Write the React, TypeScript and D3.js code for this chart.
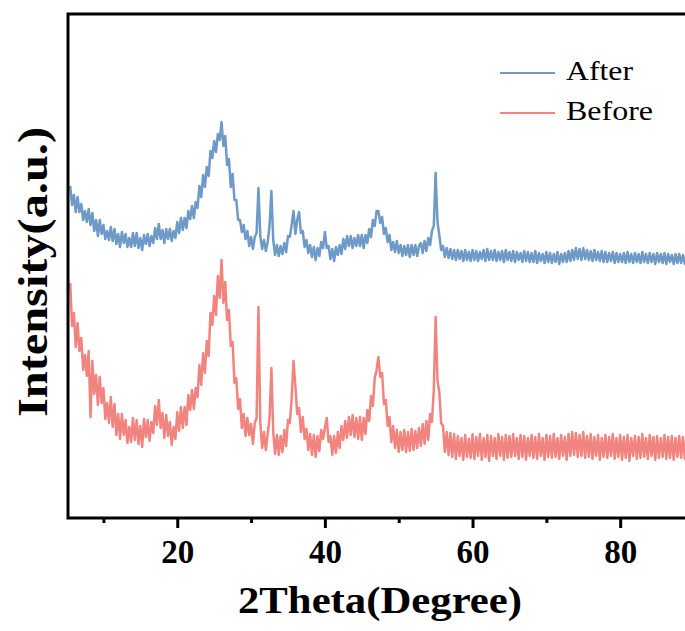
import React, { useEffect, useRef } from 'react';
import * as d3 from 'd3';

// 2θ sampling grid (degrees), one reading every 0.25°
const theta = d3.range(5.5, 89.6, 0.25);

// intensities (a.u., "After" already stacked above "Before")
const afterIntensity = [
  332, 313, 323, 306, 321, 306, 314, 298, 307, 296, // 5.5 - 7.75
  309, 293, 305, 287, 298, 282, 298, 284, 293, 279, // 8 - 10.25
  287, 278, 291, 277, 289, 274, 284, 271, 286, 275, // 10.5 - 12.75
  284, 271, 280, 271, 285, 272, 285, 270, 280, 268, // 13 - 15.25
  283, 274, 284, 272, 282, 275, 290, 279, 294, 279, // 15.5 - 17.75
  288, 275, 289, 279, 289, 277, 287, 280, 296, 285, // 18 - 20.25
  300, 288, 300, 290, 307, 299, 312, 300, 316, 310, // 20.5 - 22.75
  332, 321, 343, 331, 351, 342, 367, 360, 377, 366, // 23 - 25.25
  384, 378, 396, 372, 382, 353, 359, 331, 344, 318, // 25.5 - 27.75
  318, 298, 298, 286, 293, 279, 287, 272, 281, 269, // 28 - 30.25
  281, 285, 330, 282, 269, 278, 267, 276, 292, 327, // 30.5 - 32.75
  278, 263, 273, 262, 272, 264, 275, 266, 282, 281, // 33 - 35.25
  293, 307, 284, 298, 306, 285, 287, 271, 278, 265, // 35.5 - 37.75
  273, 261, 271, 258, 270, 262, 276, 270, 286, 270, // 38 - 40.25
  272, 259, 269, 257, 271, 263, 273, 264, 279, 269, // 40.5 - 42.75
  282, 272, 282, 270, 280, 272, 283, 272, 283, 270, // 43 - 45.25
  283, 275, 289, 281, 298, 292, 307, 307, 295, 301, // 45.5 - 47.75
  284, 290, 276, 283, 268, 276, 266, 277, 265, 273, // 48 - 50.25
  262, 272, 263, 273, 261, 273, 263, 273, 262, 272, // 50.5 - 52.75
  275, 265, 277, 267, 280, 273, 287, 292, 345, 296, // 53 - 55.25
  283, 268, 272, 261, 270, 260, 269, 259, 268, 258, // 55.5 - 57.75
  268, 259, 267, 257, 268, 258, 266, 257, 268, 258, // 58 - 60.25
  267, 257, 266, 259, 268, 257, 269, 258, 267, 258, // 60.5 - 62.75
  268, 257, 266, 258, 267, 256, 268, 258, 266, 257, // 63 - 65.25
  267, 256, 266, 258, 265, 256, 267, 257, 266, 256, // 65.5 - 67.75
  265, 256, 267, 255, 265, 257, 264, 255, 266, 256, // 68 - 70.25
  265, 255, 264, 256, 266, 254, 264, 256, 265, 256, // 70.5 - 72.75
  267, 257, 268, 258, 270, 259, 269, 258, 270, 259, // 73 - 75.25
  268, 258, 267, 257, 268, 258, 266, 257, 267, 256, // 75.5 - 77.75
  266, 256, 265, 257, 266, 255, 265, 256, 264, 256, // 78 - 80.25
  265, 255, 266, 256, 264, 255, 265, 256, 264, 255, // 80.5 - 82.75
  266, 256, 264, 255, 265, 256, 264, 254, 265, 256, // 83 - 85.25
  264, 255, 265, 254, 264, 256, 263, 254, 264, 255, // 85.5 - 87.75
  264, 255, 263, 254, 265, 255, 263,                // 88 - 89.5
];

const beforeIntensity = [
  235, 192, 205, 171, 195, 167, 180, 148, 163, 142, // 5.5 - 7.75
  167, 101, 157, 124, 143, 113, 141, 115, 130, 99,  // 8 - 10.25
  115, 95, 121, 91, 114, 83, 104, 79, 104, 83,      // 10.5 - 12.75
  98, 75, 91, 76, 100, 78, 98, 74, 92, 71,          // 13 - 15.25
  99, 81, 98, 77, 96, 85, 112, 93, 118, 90,         // 15.5 - 17.75
  105, 80, 103, 82, 96, 73, 91, 79, 106, 87,        // 18 - 20.25
  111, 90, 111, 93, 123, 108, 128, 109, 130, 121,   // 20.5 - 22.75
  153, 133, 165, 145, 177, 162, 205, 193, 222, 203, // 23 - 25.25
  242, 220, 258, 215, 236, 198, 208, 172, 176, 135, // 25.5 - 27.75
  140, 109, 119, 90, 104, 82, 100, 83, 94, 74,      // 28 - 30.25
  95, 100, 211, 95, 70, 86, 68, 84, 100, 150,       // 30.5 - 32.75
  86, 64, 83, 63, 82, 66, 88, 72, 98, 95,           // 33 - 35.25
  120, 157, 132, 104, 110, 86, 101, 79, 89, 68,     // 35.5 - 37.75
  84, 63, 83, 61, 82, 67, 88, 79, 90, 100,          // 38 - 40.25
  76, 82, 63, 82, 65, 86, 70, 92, 78, 97,           // 40.5 - 42.75
  80, 101, 83, 103, 81, 100, 79, 101, 78, 100,      // 43 - 45.25
  84, 108, 97, 122, 112, 140, 148, 161, 141, 145,   // 45.5 - 47.75
  114, 118, 92, 101, 76, 92, 70, 88, 66, 86,        // 48 - 50.25
  68, 88, 66, 86, 67, 89, 68, 87, 70, 90,           // 50.5 - 52.75
  72, 94, 74, 97, 78, 104, 96, 128, 201, 138,       // 53 - 55.25
  126, 95, 92, 66, 86, 63, 85, 61, 84, 59,          // 55.5 - 57.75
  82, 62, 80, 58, 83, 61, 79, 60, 84, 59,           // 58 - 60.25
  81, 62, 84, 58, 80, 61, 83, 57, 82, 62,           // 60.5 - 62.75
  80, 59, 84, 62, 81, 58, 83, 60, 82, 61,           // 63 - 65.25
  84, 62, 80, 59, 83, 61, 82, 58, 80, 62,           // 65.5 - 67.75
  83, 60, 81, 59, 84, 62, 80, 58, 83, 61,           // 68 - 70.25
  82, 60, 84, 61, 80, 59, 83, 62, 81, 58,           // 70.5 - 72.75
  84, 62, 86, 63, 85, 61, 83, 62, 86, 60,           // 73 - 75.25
  82, 61, 84, 59, 81, 62, 83, 58, 80, 61,           // 75.5 - 77.75
  83, 60, 81, 62, 84, 59, 80, 61, 83, 58,           // 78 - 80.25
  81, 60, 83, 57, 80, 62, 82, 59, 81, 60,           // 80.5 - 82.75
  84, 61, 80, 59, 83, 62, 81, 58, 82, 60,           // 83 - 85.25
  80, 61, 83, 59, 81, 60, 82, 58, 80, 61,           // 85.5 - 87.75
  82, 60, 81, 59, 83, 61, 80,                       // 88 - 89.5
];

const seriesNames = ['After', 'Before'];
const seriesColors = ['#6e9ac7', '#f2847f'];
const majorTicks = [20, 40, 60, 80];
const minorTicks = [10, 30, 50, 70, 90];

const App = () => {
  const svgRef = useRef(null);

  useEffect(() => {
    const svg = d3.select(svgRef.current);
    svg.selectAll('*').remove();

    const left = 68, top = 14, bottom = 518, right = 694;
    const serif = "'Liberation Serif', 'Times New Roman', serif";

    const x = d3.scaleLinear().domain([5.2, 90]).range([left, right]);
    const y = d3.scaleLinear().domain([0, 504]).range([bottom, top]);

    svg.append('defs').append('clipPath').attr('id', 'plot-clip')
      .append('rect').attr('x', left).attr('y', top)
      .attr('width', right - left).attr('height', bottom - top);

    // traces
    const line = d3.line<number>()
      .x((d, i) => x(theta[i]))
      .y(d => y(d));

    [afterIntensity, beforeIntensity].forEach((vals, k) => {
      svg.append('path')
        .datum(vals)
        .attr('clip-path', 'url(#plot-clip)')
        .attr('fill', 'none')
        .attr('stroke', seriesColors[k])
        .attr('stroke-width', 2.5)
        .attr('stroke-linejoin', 'round')
        .attr('d', line);
    });

    // frame (right side falls outside the window)
    svg.append('path')
      .attr('d', `M${right + 20},${top}H${left}V${bottom}H${right + 20}`)
      .attr('fill', 'none')
      .attr('stroke', '#000')
      .attr('stroke-width', 3);

    // bottom axis
    const major = svg.append('g')
      .attr('transform', `translate(0,${bottom})`)
      .call(d3.axisBottom(x).tickValues(majorTicks).tickSize(10).tickSizeOuter(0).tickPadding(12).tickFormat(d3.format('d')));
    major.select('.domain').remove();
    major.selectAll('line').attr('stroke-width', 3);
    major.selectAll('text')
      .style('font-family', serif)
      .style('font-weight', 'bold')
      .style('font-size', '33px')
      .attr('fill', '#000');

    const minor = svg.append('g')
      .attr('transform', `translate(0,${bottom})`)
      .call(d3.axisBottom(x).tickValues(minorTicks).tickSize(5).tickSizeOuter(0).tickFormat(() => ''));
    minor.select('.domain').remove();
    minor.selectAll('line').attr('stroke-width', 3);

    // axis titles
    svg.append('text')
      .attr('x', 380)
      .attr('y', 613)
      .attr('text-anchor', 'middle')
      .attr('textLength', 284)
      .attr('lengthAdjust', 'spacingAndGlyphs')
      .style('font-family', serif)
      .style('font-weight', 'bold')
      .style('font-size', '38px')
      .text('2Theta(Degree)');

    svg.append('text')
      .attr('transform', `translate(47,272) rotate(-90)`)
      .attr('text-anchor', 'middle')
      .attr('textLength', 290)
      .attr('lengthAdjust', 'spacingAndGlyphs')
      .style('font-family', serif)
      .style('font-weight', 'bold')
      .style('font-size', '42px')
      .text('Intensity(a.u.)');

    // legend
    const legend = svg.append('g');
    seriesNames.forEach((name, k) => {
      const ly = 73 + k * 40;
      legend.append('line')
        .attr('x1', 500).attr('x2', 555)
        .attr('y1', ly).attr('y2', ly)
        .attr('stroke', seriesColors[k])
        .attr('stroke-width', 2);
      legend.append('text')
        .attr('x', 566)
        .attr('y', ly + 7)
        .attr('textLength', k === 0 ? 67 : 87)
        .attr('lengthAdjust', 'spacingAndGlyphs')
        .style('font-family', serif)
        .style('font-size', '28px')
        .text(name);
    });
  }, []);

  return (
    <svg
      ref={svgRef}
      width={685}
      height={631}
      style={{ position: 'fixed', left: 0, top: 0, background: '#fff' }}
    />
  );
};

export default App;
